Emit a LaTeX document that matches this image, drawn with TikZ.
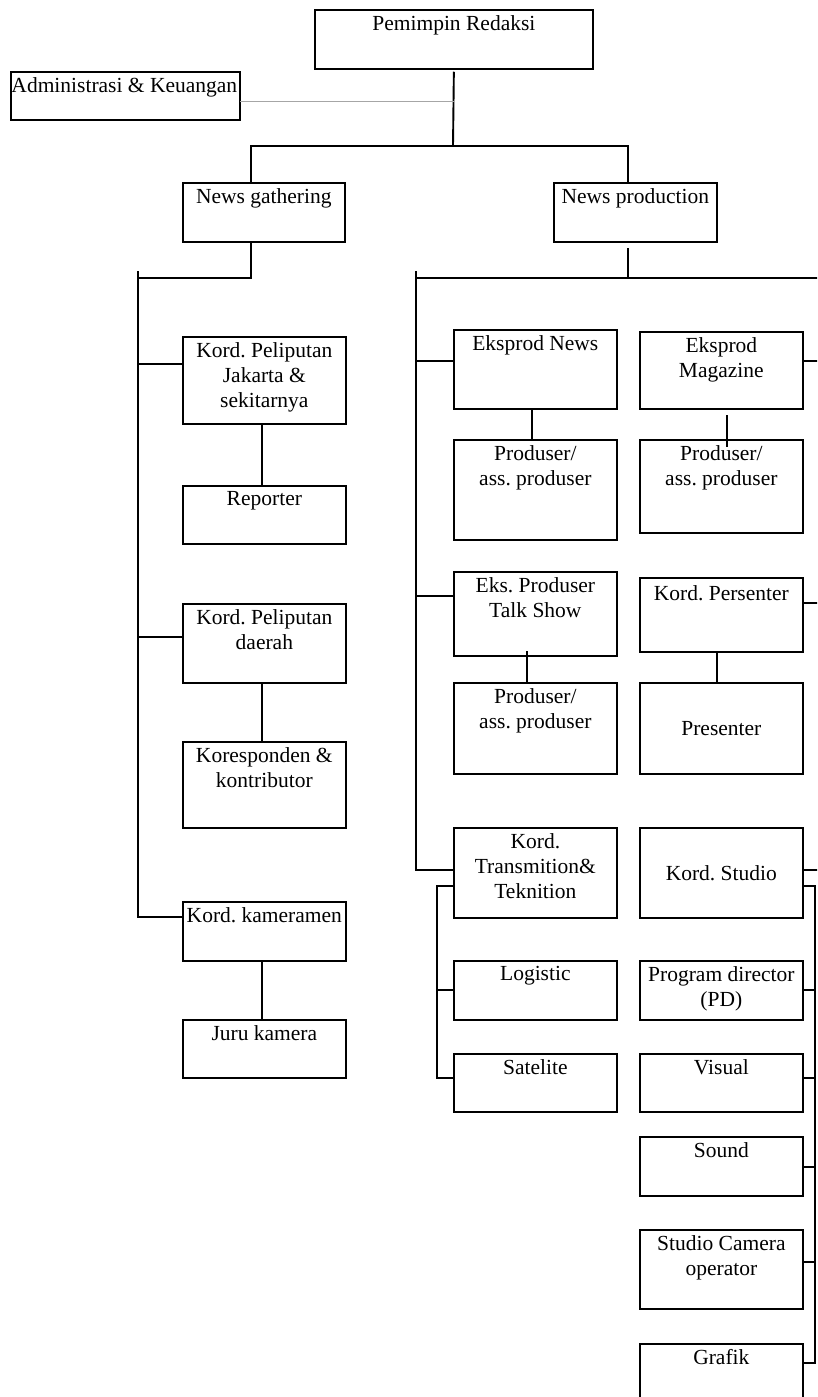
\documentclass[tikz,border=0pt]{standalone}
\usepackage{fontspec}
\setmainfont{Liberation Serif}
\usetikzlibrary{calc}

\newcommand{\orgfont}{\fontsize{21.5}{25}\selectfont}
\frenchspacing

\tikzset{
  orgbox/.style={draw, line width=1.7pt, minimum width=163pt, anchor=north west, inner sep=0pt},
  orgtext/.style={anchor=north, align=center, inner sep=0pt, yshift=-6pt, font=\orgfont},
  midtext/.style={anchor=center, align=center, inner sep=0pt, font=\orgfont},
  link/.style={line width=1.9pt},
  dotlink/.style={gray!70, densely dotted, line width=1pt}
}

\begin{document}
\begin{tikzpicture}[
        x=1pt, y=-1pt,   % one unit is one pixel of the chart, y going down
        line cap=rect,
        line join=miter
        ]

        % 1. Page frame
        \useasboundingbox (0,0) rectangle (817,1397);
        \fill[white] (0,0) rectangle (817,1397);
        \clip (0,0) rectangle (817,1397);

        % 2. Top of the chart
        \node[orgbox, minimum width=278pt, minimum height=59pt] (pr) at (314,9) {};
        \node[orgtext] (pr-t) at (pr.north) {Pemimpin Redaksi};
        \node[orgbox, minimum width=229pt, minimum height=48pt] (adm) at (10,71) {};
        \node[orgtext, xshift=-1pt] (adm-t) at (adm.north) {Administrasi \& Keuangan};
        \node[orgbox, minimum width=162pt, minimum height=59pt] (ng) at (182,182) {};
        \node[orgtext] (ng-t) at (ng.north) {News gathering};
        \node[orgbox, minimum height=59pt] (np) at (553,182) {};
        \node[orgtext] (np-t) at (np.north) {News production};

        % 3. News gathering column
        \node[orgbox, minimum height=87pt] (kpj) at (182,336) {};
        \node[orgtext] (kpj-t) at (kpj.north) {Kord. Peliputan\\Jakarta \&\\sekitarnya};
        \node[orgbox, minimum height=58pt] (rep) at (182,485) {};
        \node[orgtext] (rep-t) at (rep.north) {Reporter};
        \node[orgbox, minimum height=79pt] (kpd) at (182,603) {};
        \node[orgtext] (kpd-t) at (kpd.north) {Kord. Peliputan\\daerah};
        \node[orgbox, minimum height=86pt] (kor) at (182,741) {};
        \node[orgtext] (kor-t) at (kor.north) {Koresponden \&\\kontributor};
        \node[orgbox, minimum height=59pt] (kam) at (182,901) {};
        \node[orgtext] (kam-t) at (kam.north) {Kord. kameramen};
        \node[orgbox, minimum height=58pt] (juru) at (182,1019) {};
        \node[orgtext] (juru-t) at (juru.north) {Juru kamera};

        % 4. News production, left column
        \node[orgbox, minimum height=79pt] (en) at (453,329) {};
        \node[orgtext] (en-t) at (en.north) {Eksprod News};
        \node[orgbox, minimum height=100pt] (pa) at (453,439) {};
        \node[orgtext] (pa-t) at (pa.north) {Produser/\\ass. produser};
        \node[orgbox, minimum height=84pt] (et) at (453,571) {};
        \node[orgtext] (et-t) at (et.north) {Eks. Produser\\Talk Show};
        \node[orgbox, minimum height=91pt] (pc) at (453,682) {};
        \node[orgtext] (pc-t) at (pc.north) {Produser/\\ass. produser};
        \node[orgbox, minimum height=90pt] (kt) at (453,827) {};
        \node[orgtext] (kt-t) at (kt.north) {Kord.\\Transmition\&\\Teknition};
        \node[orgbox, minimum height=59pt] (log) at (453,960) {};
        \node[orgtext] (log-t) at (log.north) {Logistic};
        \node[orgbox, minimum height=58pt] (sat) at (453,1053) {};
        \node[orgtext] (sat-t) at (sat.north) {Satelite};

        % 5. News production, right column
        \node[orgbox, minimum height=77pt] (em) at (639,331) {};
        \node[orgtext] (em-t) at (em.north) {Eksprod\\Magazine};
        \node[orgbox, minimum height=93pt] (pb) at (639,439) {};
        \node[orgtext] (pb-t) at (pb.north) {Produser/\\ass. produser};
        \node[orgbox, minimum height=74pt] (kp) at (639,577) {};
        \node[orgtext, yshift=-2pt] (kp-t) at (kp.north) {Kord. Persenter};
        \node[orgbox, minimum height=91pt] (pres) at (639,682) {};
        \node[midtext] (pres-t) at (pres.center) {Presenter};
        \node[orgbox, minimum height=90pt] (ks) at (639,827) {};
        \node[midtext] (ks-t) at (ks.center) {Kord. Studio};
        \node[orgbox, minimum height=59pt] (pd) at (639,960) {};
        \node[orgtext] (pd-t) at (pd.north) {Program director\\(PD)};
        \node[orgbox, minimum height=58pt] (vis) at (639,1053) {};
        \node[orgtext] (vis-t) at (vis.north) {Visual};
        \node[orgbox, minimum height=59pt] (snd) at (639,1136) {};
        \node[orgtext] (snd-t) at (snd.north) {Sound};
        \node[orgbox, minimum height=79pt] (sco) at (639,1229) {};
        \node[orgtext] (sco-t) at (sco.north) {Studio Camera\\operator};
        \node[orgbox, minimum height=70pt] (gra) at (639,1343) {};
        \node[orgtext] (gra-t) at (gra.north) {Grafik};

        % 6. Joints of the lines
        \coordinate (top) at (453,146);
        \coordinate (admJ) at (453,101);
        \coordinate (ngJ) at (251,146);
        \coordinate (npJ) at (628,146);
        \coordinate (ngB) at (251,278);
        \coordinate (npB) at (628,278);
        \coordinate (gTop) at (138,272);
        \coordinate (gL) at (138,278);
        \coordinate (gBot) at (138,917);
        \coordinate (pTop) at (416,272);
        \coordinate (pL) at (416,278);
        \coordinate (pR) at (817,278);
        \coordinate (pBot) at (416,870);

        % 7. Upper lines
        \draw[link] ($(pr.south)+(0,3)$) -- (top);
        \draw[dotlink] (adm.east |- admJ) -- (admJ);
        \draw[link] (ng.north -| ngJ) -- (ngJ) -- (npJ) -- (np.north -| npJ);
        \draw[link] (ng.south -| ngB) -- (ngB) -- (gL);
        \draw[link] ($(np.south -| npB)+(0,6)$) -- (npB);
        \draw[link] (pL) -- (pR);

        % 8. News gathering lines
        \draw[link] (gTop) -- (gBot);
        \draw[link] (kpj.north west) ++(0,28) -- ++(-44,0);
        \draw[link] (kpd.north west) ++(0,34) -- ++(-44,0);
        \draw[link] (kam.north west) ++(0,16) -- ++(-44,0);
        \draw[link] ($(kpj.south)+(-2.5,0)$) -- ($(rep.north)+(-2.5,0)$);
        \draw[link] ($(kpd.south)+(-2.5,0)$) -- ($(kor.north)+(-2.5,0)$);
        \draw[link] ($(kam.south)+(-2.5,0)$) -- ($(juru.north)+(-2.5,0)$);

        % 9. News production lines
        \draw[link] (pTop) -- (pBot);
        \draw[link] (en.north west) ++(0,32) -- ++(-37,0);
        \draw[link] (et.north west) ++(0,25) -- ++(-37,0);
        \draw[link] (kt.north west) ++(0,43) -- ++(-37,0);
        \draw[link] (em.north east) ++(0,30) -- ++(15,0);
        \draw[link] (kp.north east) ++(0,26) -- ++(15,0);
        \draw[link] (ks.north east) ++(0,43) -- ++(15,0);
        \draw[link] ($(en.south)+(-3.5,0)$) -- ($(pa.north)+(-3.5,0)$);
        \draw[link] ($(em.south)+(5.5,6)$) -- ($(pb.north)+(5.5,7)$);
        \draw[link] ($(et.south)+(-8.5,-5)$) -- ($(pc.north)+(-8.5,0)$);
        \draw[link] ($(kp.south)+(-4.5,0)$) -- ($(pres.north)+(-4.5,0)$);

        % 10. Transmition and studio brackets
        \draw[link] ($(kt.north west)+(0,59)$) -- ++(-16,0) |- ($(sat.north west)+(0,25)$);
        \draw[link] (log.north west) ++(0,30) -- ++(-16,0);
        \draw[link] ($(ks.north east)+(0,59)$) -- ++(11,0) |- ($(gra.north east)+(0,20)$);
        \draw[link] (pd.north east) ++(0,30) -- ++(11,0);
        \draw[link] (vis.north east) ++(0,25) -- ++(11,0);
        \draw[link] (snd.north east) ++(0,31) -- ++(11,0);
        \draw[link] (sco.north east) ++(0,33) -- ++(11,0);
    \end{tikzpicture}
\end{document}
